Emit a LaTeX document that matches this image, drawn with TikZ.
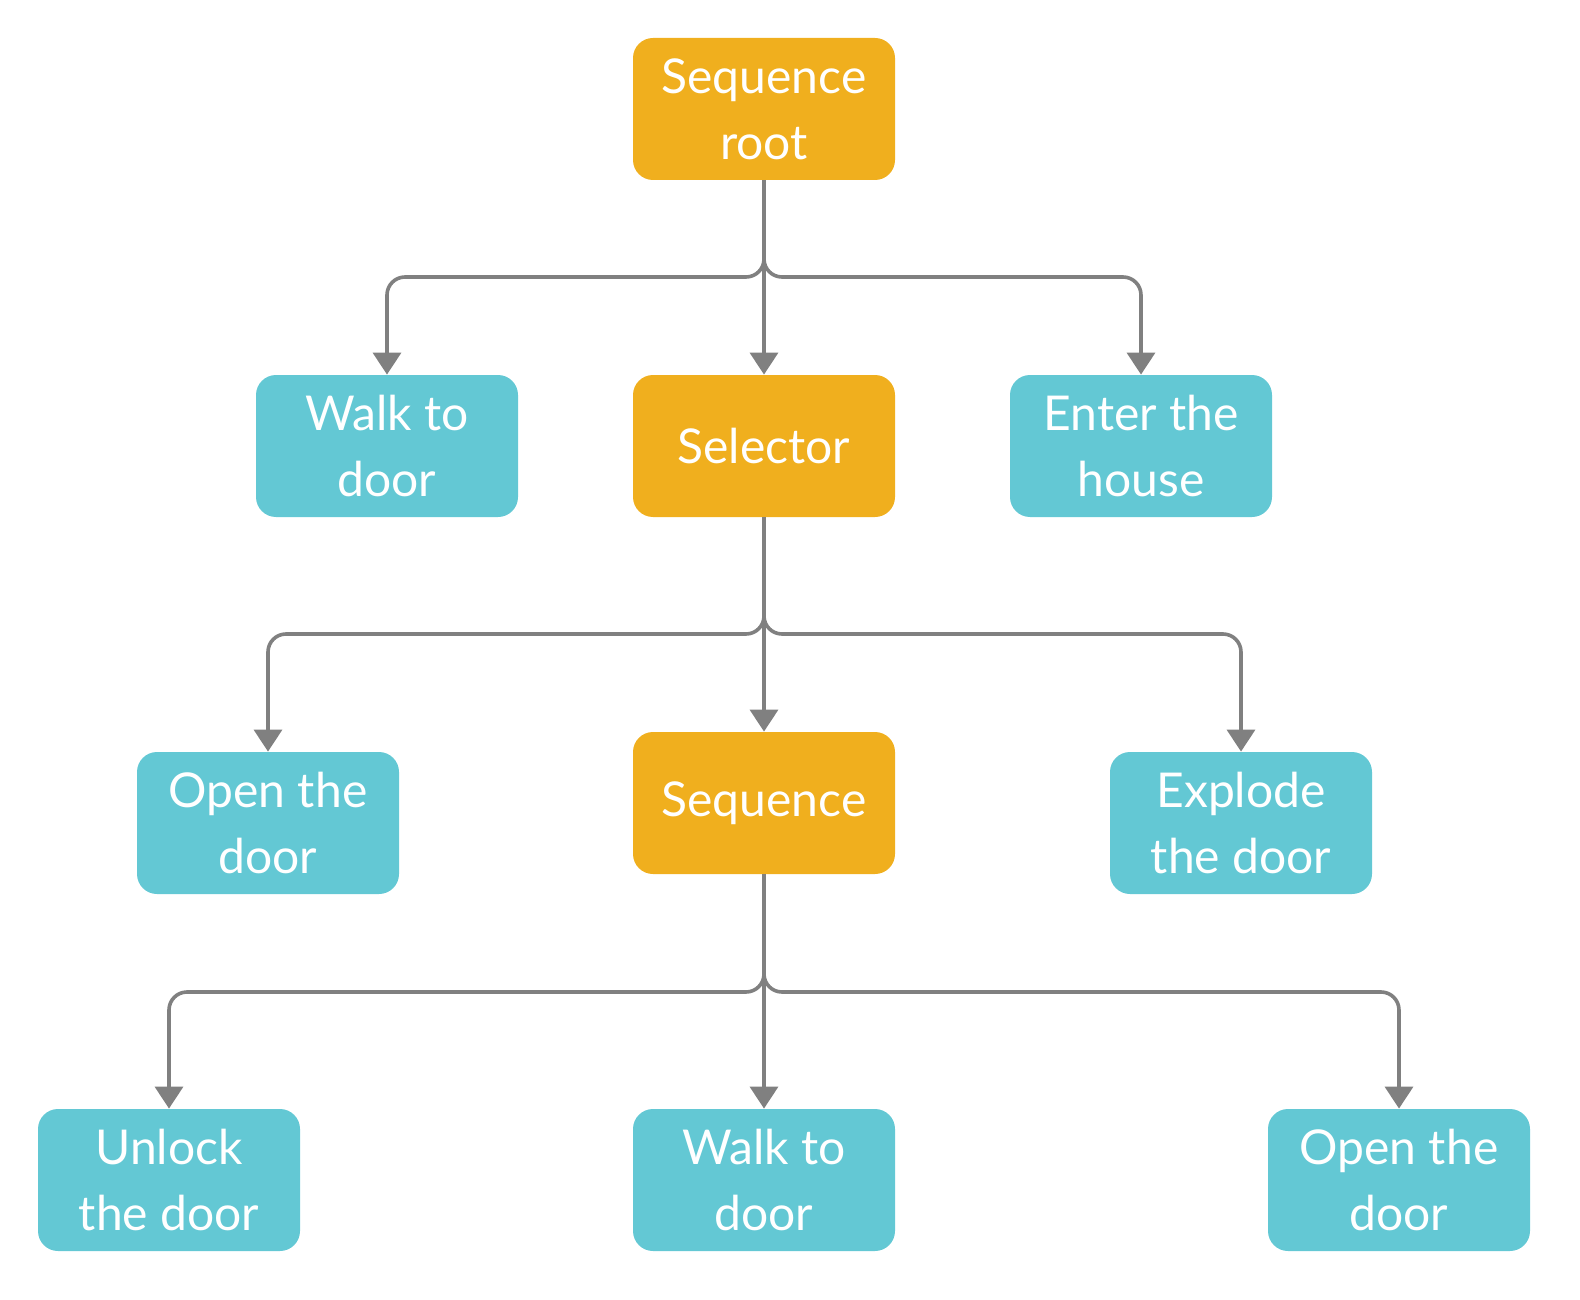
\documentclass[tikz,border=0pt]{standalone}
\usepackage{fontspec}
\setmainfont{Lato}
\usetikzlibrary{arrows.meta,positioning,calc}
\definecolor{seqorange}{RGB}{240,175,30}
\definecolor{leafteal}{RGB}{99,200,212}
\definecolor{linkgray}{RGB}{128,128,128}
\tikzset{
box/.style={rounded corners=10pt, minimum width=131pt, minimum height=71pt, inner sep=0pt, align=center, text=white, font=\fontsize{24}{33}\selectfont},
ctrl/.style={box, fill=seqorange},
leaf/.style={box, fill=leafteal},
link/.style={draw=linkgray, line width=1.8pt, rounded corners=9pt, -{Triangle[width=14pt,length=11pt]}}
}

\begin{document}
\begin{tikzpicture}[style={x=0.5pt,y=-0.5pt}, line join=round]
\useasboundingbox (0,0) rectangle (1580,1300);
\node[ctrl] (root) at (764,109) {Sequence\\root};
\node[leaf] (walkA) at (387,446) {Walk to\\door};
\node[ctrl] (sel) at (764,446) {Selector};
\node[leaf] (enter) at (1141,446) {Enter the\\house};
\node[leaf] (openA) at (268,823) {Open the\\door};
\node[ctrl] (seq) at (764,803) {Sequence};
\node[leaf] (explode) at (1241,823) {Explode\\the door};
\node[leaf] (unlock) at (169,1180) {Unlock\\the door};
\node[leaf] (walkB) at (764,1180) {Walk to\\door};
\node[leaf] (openB) at (1399,1180) {Open the\\door};
\coordinate (forkA) at (764,277);
\coordinate (forkB) at (764,634);
\coordinate (forkC) at (764,992);
\draw[link] (root.south) -- (forkA) -| (walkA.north);
\draw[link] (root.south) -- (sel.north);
\draw[link] (root.south) -- (forkA) -| (enter.north);
\draw[link] (sel.south) -- (forkB) -| (openA.north);
\draw[link] (sel.south) -- (seq.north);
\draw[link] (sel.south) -- (forkB) -| (explode.north);
\draw[link] (seq.south) -- (forkC) -| (unlock.north);
\draw[link] (seq.south) -- (walkB.north);
\draw[link] (seq.south) -- (forkC) -| (openB.north);
\end{tikzpicture}
\end{document}
